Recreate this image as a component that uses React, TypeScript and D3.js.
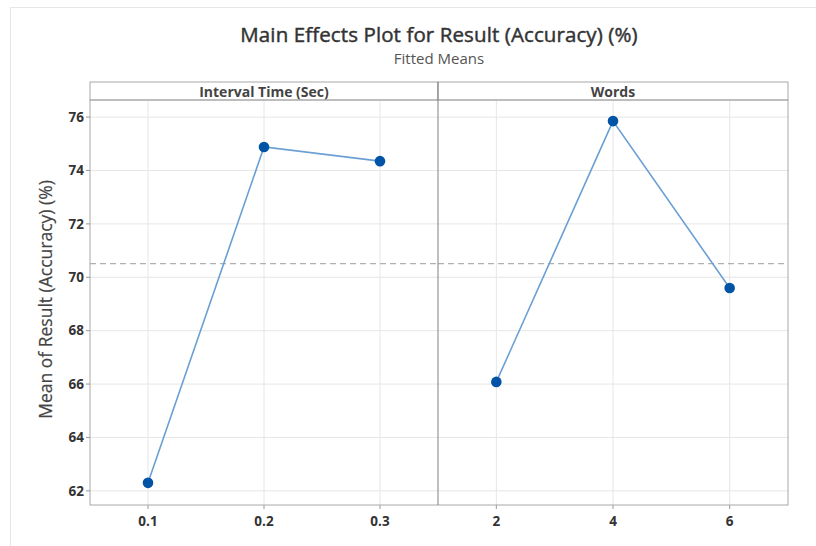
import React from "react";
import * as d3 from "d3";

// Factor levels and fitted means
const intervalLevels = ["0.1", "0.2", "0.3"];
const intervalMeans = [62.3, 74.88, 74.35];
const wordLevels = ["2", "4", "6"];
const wordMeans = [66.08, 75.85, 69.6];
const panelTitles = ["Interval Time (Sec)", "Words"];
const yTicks = [62, 64, 66, 68, 70, 72, 74, 76];
const grandMean = 70.51;

const W = 816;
const H = 546;
const plotLeft = 90;
const plotRight = 788;
const divider = 438;
const stripTop = 82;
const plotTop = 100;
const plotBottom = 505;

const FONT = "'Open Sans', 'Noto Sans', sans-serif";

export default function App() {
  const y = d3.scaleLinear().domain([61.47, 76.64]).range([plotBottom, plotTop]);

  const panels = [
    { title: panelTitles[0], levels: intervalLevels, means: intervalMeans, x0: plotLeft, x1: divider },
    { title: panelTitles[1], levels: wordLevels, means: wordMeans, x0: divider, x1: plotRight },
  ];

  const line = d3.line<[number, number]>().x((d) => d[0]).y((d) => d[1]);

  return (
    <svg width={W} height={H} style={{ position: "absolute", left: 0, top: 0 }}>
      <rect x={0} y={0} width={W} height={H} fill="#fff" />
      <rect x={10.5} y={7.5} width={W} height={H} fill="none" stroke="#e6e6e6" />
      <text x={439} y={42} textAnchor="middle" fontFamily={FONT} fontSize={20.5} fill="#333" stroke="#333" strokeWidth={0.45} letterSpacing={0.1}>
        Main Effects Plot for Result (Accuracy) (%)
      </text>
      <text x={439} y={64} textAnchor="middle" fontFamily={FONT} fontSize={15} fill="#555">
        Fitted Means
      </text>

      {/* horizontal gridlines */}
      {yTicks.map((t) => (
        <line key={"g" + t} x1={plotLeft} x2={plotRight} y1={y(t)} y2={y(t)} stroke="#e6e6e6" strokeWidth={1} />
      ))}

      {panels.map((p, i) => {
        const x = d3.scalePoint<string>().domain(p.levels).range([p.x0, p.x1]).padding(0.5);
        const pts: [number, number][] = p.levels.map((l, j) => [x(l) as number, y(p.means[j])]);
        return (
          <g key={i}>
            {p.levels.map((l) => (
              <g key={l}>
                <line x1={x(l)} x2={x(l)} y1={plotTop} y2={plotBottom} stroke="#e6e6e6" />
                <line x1={x(l)} x2={x(l)} y1={plotBottom} y2={plotBottom + 4} stroke="#999" />
                <text x={x(l)} y={526} textAnchor="middle" fontFamily={FONT} fontSize={13.5} fontWeight={700} fill="#333">
                  {l}
                </text>
              </g>
            ))}
            <line x1={p.x0} x2={p.x1} y1={y(grandMean)} y2={y(grandMean)} stroke="#b0b0b0" strokeWidth={1.3} strokeDasharray="6,4" />
            <path d={line(pts) ?? ""} fill="none" stroke="#6a9fd4" strokeWidth={1.6} />
            {pts.map((d, j) => (
              <circle key={j} cx={d[0]} cy={d[1]} r={5.3} fill="#0053a5" />
            ))}
            <rect x={p.x0} y={stripTop} width={p.x1 - p.x0} height={plotTop - stripTop} fill="#fff" stroke="#a8a8a8" />
            <text x={(p.x0 + p.x1) / 2} y={96.5} textAnchor="middle" fontFamily={FONT} fontSize={14} fontWeight={700} fill="#444">
              {p.title}
            </text>
          </g>
        );
      })}

      {/* panel frame */}
      <rect x={plotLeft} y={plotTop} width={plotRight - plotLeft} height={plotBottom - plotTop} fill="none" stroke="#a8a8a8" />
      <line x1={divider} x2={divider} y1={stripTop} y2={plotBottom} stroke="#808080" />

      {/* y axis */}
      {yTicks.map((t) => (
        <g key={"t" + t}>
          <line x1={plotLeft - 4} x2={plotLeft} y1={y(t)} y2={y(t)} stroke="#999" />
          <text x={plotLeft - 6} y={y(t)} dy="0.35em" textAnchor="end" fontFamily={FONT} fontSize={13.5} fontWeight={700} fill="#333">
            {t}
          </text>
        </g>
      ))}
      <text
        transform={`translate(52,${(plotTop + plotBottom) / 2 - 3}) rotate(-90)`}
        textAnchor="middle"
        fontFamily={FONT}
        fontSize={17.5}
        fill="#444"
        stroke="#444"
        strokeWidth={0.2}
      >
        Mean of Result (Accuracy) (%)
      </text>
    </svg>
  );
}
